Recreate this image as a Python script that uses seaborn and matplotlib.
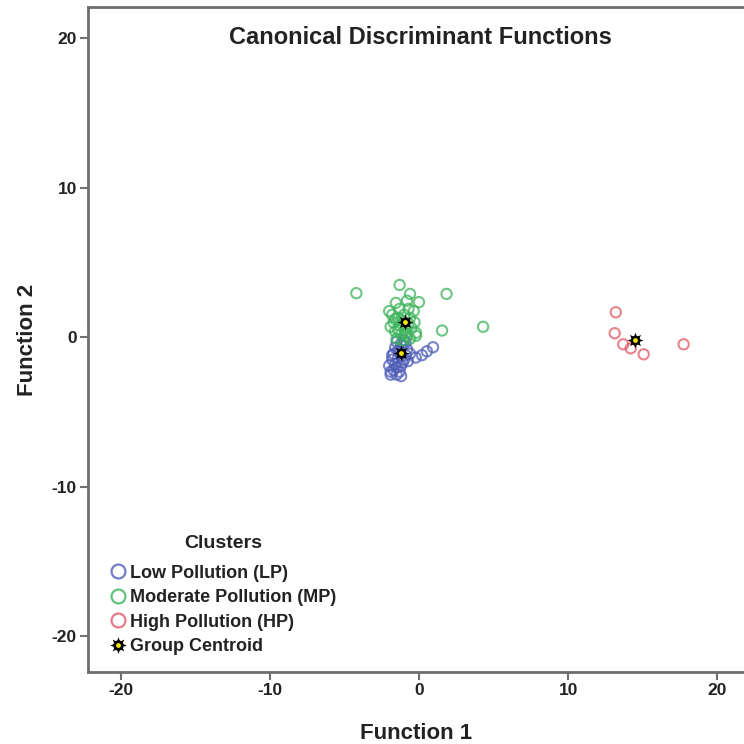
import numpy as np
import pandas as pd
import matplotlib
matplotlib.use("Agg")
import matplotlib.pyplot as plt
from matplotlib.lines import Line2D
import seaborn as sns

# Discriminant scores per cluster (Function 1, Function 2)
lp_f1 = [-1.9, -1.5, -1.7, -1.3, -2.0, -1.6, -1.2, -1.8, -1.4, -1.0, -1.7, -1.3,
         -0.9, -1.6, -1.1, -0.8, -1.5, -1.0, -0.74, -0.22, 0.2, 0.53, 0.94, -1.2,
         -1.9, -0.6, -1.5, -1.1, -1.8, -1.4, -1.2, -0.9]
lp_f2 = [-2.5, -2.5, -2.2, -2.3, -1.9, -1.8, -1.9, -1.5, -1.4, -1.5, -1.1, -1.0,
         -1.2, -0.7, -0.6, -0.8, -0.3, -0.2, -1.6, -1.36, -1.2, -0.94, -0.67, -2.6,
         -2.3, -1.1, -2.0, -1.7, -1.2, -0.9, -0.45, -0.35]

mp_f1 = [-4.2, -1.3, -0.6, 0.0, -1.55, -0.8, -2.0, -0.35, 1.85, 1.55, 4.3,
         -1.8, -1.4, -1.0, -0.6, -0.3, -1.7, -1.3, -0.9, -0.5, -0.2, -1.6, -1.2,
         -0.8, -1.5, -1.1, -0.6, -1.9, -1.3, -0.7, -0.2, -1.6, -1.1, -0.7, -1.4, -0.9]
mp_f2 = [2.95, 3.5, 2.9, 2.35, 2.3, 2.45, 1.75, 1.75, 2.9, 0.45, 0.7,
         1.5, 1.3, 1.5, 1.3, 1.0, 1.0, 0.8, 0.6, 0.6, 0.3, 0.4, 0.2,
         0.1, -0.1, -0.2, -0.1, 0.7, 1.9, 1.9, 0.1, 1.2, 1.1, 0.9, 0.5, 0.3]

hp_f1 = [13.2, 13.13, 13.7, 14.2, 15.07, 17.75]
hp_f2 = [1.67, 0.27, -0.47, -0.74, -1.14, -0.47]

cluster_names = ["Low Pollution (LP)", "Moderate Pollution (MP)", "High Pollution (HP)"]
cluster_colors = ["#4f5eb8", "#3cb45a", "#e25a66"]

centroid_f1 = [-1.2, -0.94, 14.5]
centroid_f2 = [-1.07, 1.0, -0.15]

x_ticks = [-20, -10, 0, 10, 20]
y_ticks = [-20, -10, 0, 10, 20]

frames = []
for name, f1, f2 in zip(cluster_names, [lp_f1, mp_f1, hp_f1], [lp_f2, mp_f2, hp_f2]):
    frames.append(pd.DataFrame({"Function 1": f1, "Function 2": f2, "Cluster": name}))
scores = pd.concat(frames, ignore_index=True)

sns.set_style("white")
plt.rcParams["font.family"] = ["Liberation Sans", "DejaVu Sans"]
plt.rcParams["axes.unicode_minus"] = False

fig = plt.figure(figsize=(7.44, 7.44), dpi=100)
ax = fig.add_axes([88 / 744, 1 - 672 / 744, 1 - 88 / 744, 665 / 744])

for name, col in zip(cluster_names, cluster_colors):
    sub = scores[scores["Cluster"] == name]
    sns.scatterplot(data=sub, x="Function 1", y="Function 2", ax=ax,
                    marker="o", s=55, facecolor="none", edgecolor=col,
                    linewidth=1.5, alpha=0.75, legend=False, zorder=2)

# Group centroids: black sunburst with a yellow core
ax.scatter(centroid_f1, centroid_f2, marker=(8, 1, 0), s=130, c="black", zorder=4, linewidths=0)
ax.scatter(centroid_f1, centroid_f2, marker="o", s=48, c="black", zorder=5, linewidths=0)
ax.scatter(centroid_f1, centroid_f2, marker="o", s=12, c="#f2e600", zorder=6, linewidths=0)

ax.set_xlim(-22.2, 21.8)
ax.set_ylim(-22.4, 22.1)
ax.set_xticks(x_ticks)
ax.set_yticks(y_ticks)
ax.tick_params(axis="both", direction="out", length=6, width=1.5, color="#707070",
               labelsize=12.5, pad=2, bottom=True, left=True)
for lab in ax.get_xticklabels() + ax.get_yticklabels():
    lab.set_fontweight("bold")
    lab.set_color("#222222")

for side in ["left", "bottom", "top"]:
    ax.spines[side].set_visible(True)
    ax.spines[side].set_color("#6e6e6e")
    ax.spines[side].set_linewidth(2.0)
ax.spines["right"].set_visible(False)

ax.set_xlabel("Function 1", fontsize=16, fontweight="bold", color="#222222", labelpad=18)
ax.set_ylabel("Function 2", fontsize=16, fontweight="bold", color="#222222", labelpad=10)

ax.text((420 - 88) / 656, (672 - 38) / 665, "Canonical Discriminant Functions",
        transform=ax.transAxes, ha="center", va="center", fontsize=17,
        fontweight="bold", color="#222222")

handles = [Line2D([], [], linestyle="none", marker="o", markersize=10,
                  markerfacecolor="none", markeredgecolor=c, markeredgewidth=1.6, alpha=0.8)
           for c in cluster_colors]
handles.append((Line2D([], [], linestyle="none", marker=(8, 1, 0), markersize=12,
                       color="black", markeredgewidth=0),
                Line2D([], [], linestyle="none", marker="o", markersize=7.5,
                       color="black", markeredgewidth=0),
                Line2D([], [], linestyle="none", marker="o", markersize=3.5,
                       color="#f2e600", markeredgewidth=0)))
labels = cluster_names + ["Group Centroid"]
leg = ax.legend(handles, labels, title="Clusters", loc="lower left",
                bbox_to_anchor=(0.015, 0.006), frameon=False,
                prop={"size": 13, "weight": "bold"},
                title_fontproperties={"size": 14, "weight": "bold"},
                handlelength=0.8, handletextpad=0.3, labelspacing=0.42,
                borderpad=0.2)
leg._legend_box.sep = 9
for t in leg.get_texts():
    t.set_color("#222222")
leg.get_title().set_color("#222222")

fig.savefig("out.png", dpi=100)
